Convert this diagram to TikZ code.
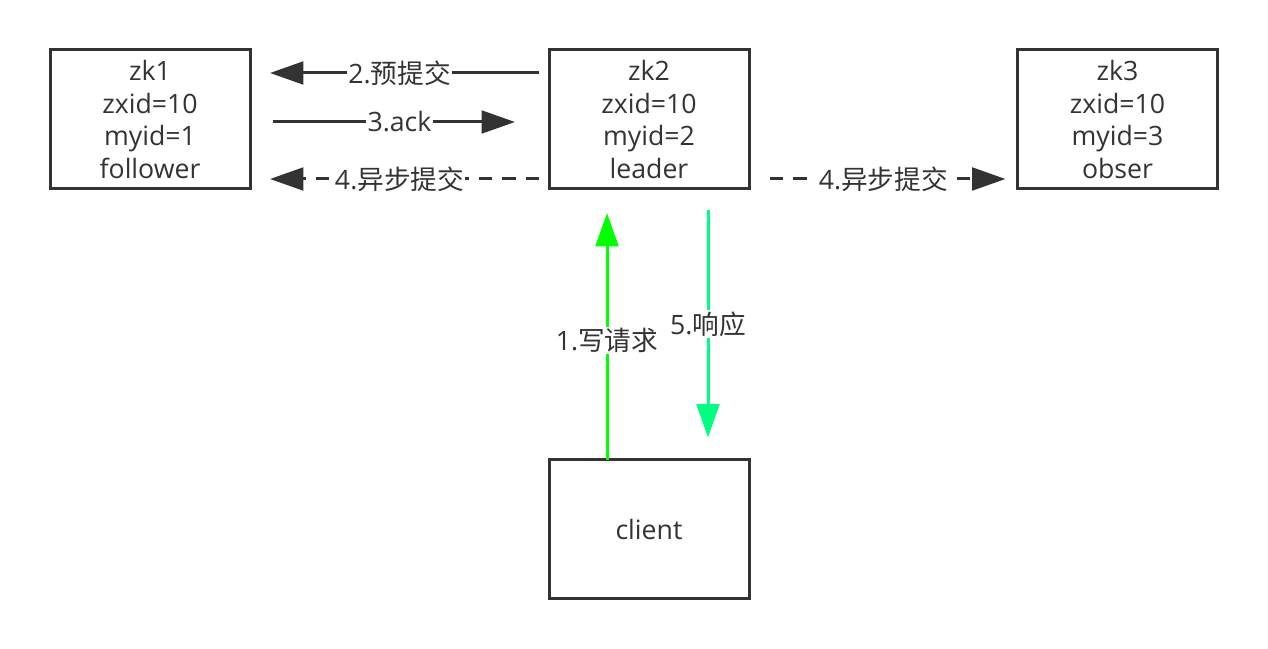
\documentclass[tikz,border=0pt]{standalone}
\usepackage{fontspec}
\setmainfont{Open Sans}
\newfontfamily\cjk{Noto Sans CJK SC}
\usetikzlibrary{arrows.meta}
\definecolor{dk}{HTML}{333333}
\definecolor{gA}{HTML}{00FF00}
\definecolor{gB}{HTML}{00FF80}
\begin{document}
\begin{tikzpicture}[x=0.75pt,y=-0.75pt,
  txt/.style={font=\fontsize{20pt}{24.5pt}\selectfont,text=dk},
  box/.style={txt,draw=dk,line width=2.25pt,minimum width=150pt,minimum height=104.25pt,inner sep=0pt,outer sep=0pt,align=center},
  arr/.style={color=dk,line width=2.25pt,-{Triangle[length=25pt,width=17pt]}},
  dsh/.style={arr,dash pattern=on 10pt off 7.5pt},
  lbl/.style={txt,fill=white,inner sep=1pt}]
\useasboundingbox (0,0) rectangle (1268,649);
\node[box] (zk1) at (150,119.5) {zk1\\zxid=10\\myid=1\\follower};
\node[box] (zk2) at (649,119.5) {zk2\\zxid=10\\myid=2\\leader};
\node[box] (zk3) at (1117.5,119.5) {zk3\\zxid=10\\myid=3\\obser};
\node[box] (client) at (649,529) {client};
\coordinate (r1) at (0,73);
\coordinate (r2) at (0,122);
\coordinate (r3) at (0,179);
\coordinate (c1) at (607,0);
\coordinate (c2) at (708,0);
\draw[arr,shorten <=7.5pt,shorten >=15pt] (zk2.west |- r1) -- node[lbl]{2.{\cjk 预提交}} (zk1.east |- r1);
\draw[arr,shorten <=17.25pt,shorten >=25.5pt] (zk1.east |- r2) -- node[lbl]{3.ack} (zk2.west |- r2);
\draw[dsh,shorten <=7.5pt,shorten >=15pt] (zk2.west |- r3) -- node[lbl]{4.{\cjk 异步提交}} (zk1.east |- r3);
\draw[dsh,shorten <=15.75pt,shorten >=9pt] (zk2.east |- r3) -- node[lbl]{4.{\cjk 异步提交}} (zk3.west |- r3);
\draw[arr,color=gA,shorten >=18pt] (client.north -| c1) -- node[lbl,pos=0.44]{1.{\cjk 写请求}} (zk2.south -| c1);
\draw[arr,color=gB,shorten <=15.75pt,shorten >=16.5pt] (zk2.south -| c2) -- node[lbl,pos=0.5]{5.{\cjk 响应}} (client.north -| c2);
\end{tikzpicture}
\end{document}
